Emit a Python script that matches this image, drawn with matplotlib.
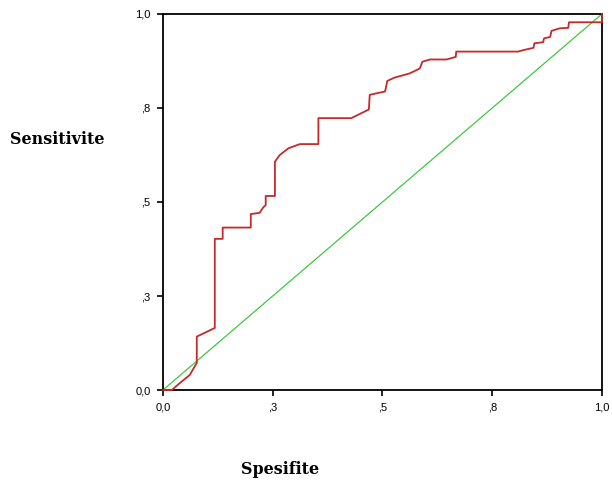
import matplotlib
matplotlib.use("Agg")
import matplotlib.pyplot as plt
from matplotlib.ticker import FixedLocator, FixedFormatter

# ROC curve (1 - specificity, sensitivity)
fpr = [0.0, 0.020, 0.039, 0.061, 0.077, 0.077, 0.118, 0.118, 0.136, 0.136,
       0.200, 0.200, 0.220, 0.228, 0.234, 0.234, 0.255, 0.255, 0.266, 0.286,
       0.312, 0.354, 0.354, 0.429, 0.469, 0.471, 0.506, 0.511, 0.528, 0.562,
       0.585, 0.591, 0.608, 0.646, 0.667, 0.668, 0.809, 0.821, 0.844, 0.846,
       0.866, 0.868, 0.882, 0.885, 0.904, 0.923, 0.925, 1.0, 1.0]
tpr = [0.0, 0.0, 0.019, 0.040, 0.072, 0.142, 0.165, 0.402, 0.402, 0.432,
       0.432, 0.468, 0.471, 0.485, 0.492, 0.516, 0.516, 0.607, 0.625, 0.643,
       0.654, 0.654, 0.723, 0.723, 0.746, 0.785, 0.794, 0.822, 0.831, 0.842,
       0.855, 0.873, 0.879, 0.879, 0.886, 0.900, 0.900, 0.904, 0.910, 0.922,
       0.925, 0.935, 0.939, 0.955, 0.962, 0.963, 0.978, 0.978, 1.0]
ref_line = [0.0, 1.0]

tick_values = [0.0, 0.25, 0.5, 0.75, 1.0]
tick_labels = ["0,0", ",3", ",5", ",8", "1,0"]

fig = plt.figure(figsize=(6.12, 4.84), dpi=100)
ax = fig.add_axes([0.2663, 0.1942, 0.7173, 0.7769])

ax.plot(ref_line, ref_line, color="#40c840", lw=0.9, zorder=2)
ax.plot(fpr, tpr, color="#c42a2a", lw=1.3, zorder=3, clip_on=False)

ax.set_xlim(0, 1)
ax.set_ylim(0, 1)
for ax_ in (ax.xaxis, ax.yaxis):
    ax_.set_major_locator(FixedLocator(tick_values))
    ax_.set_major_formatter(FixedFormatter(tick_labels))
for s in ax.spines.values():
    s.set_linewidth(1.3)
    s.set_color("black")
ax.tick_params(direction="out", length=4, width=1.2, labelsize=8,
               pad=5, colors="black")
for lbl in ax.get_xticklabels() + ax.get_yticklabels():
    lbl.set_family("Liberation Sans")

fig.text(10 / 612, 1 - 140 / 484, "Sensitivite", family="DejaVu Serif",
         weight="bold", fontsize=11.5, ha="left", va="center")
fig.text(280 / 612, 1 - 469 / 484, "Spesifite", family="DejaVu Serif",
         weight="bold", fontsize=11.5, ha="center", va="center")

fig.savefig("out.png", dpi=100)
